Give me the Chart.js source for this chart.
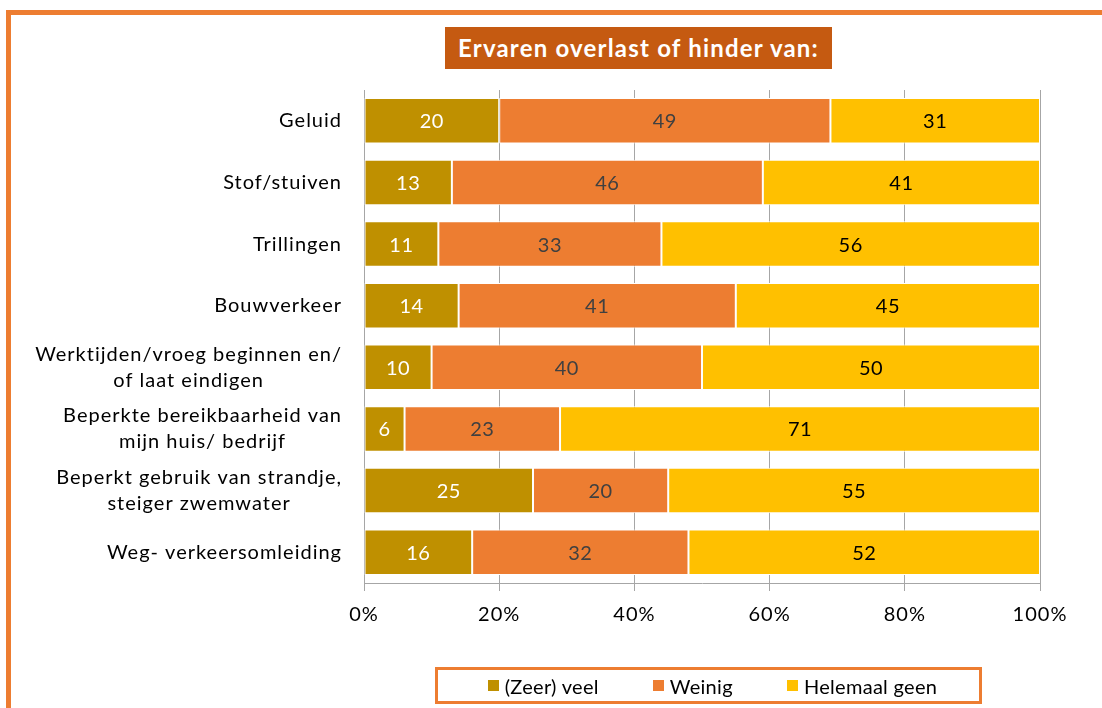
<!DOCTYPE html>
<html>
<head>
<meta charset="utf-8">
<script src="https://cdn.jsdelivr.net/npm/chart.js@4/dist/chart.umd.min.js"></script>
<style>
  body { margin:0; background:#fff; font-family:Lato, sans-serif; }
  #wrap { position:relative; width:1102px; height:708px; overflow:hidden; }
  #frame { position:absolute; left:6px; top:10px; right:-10px; bottom:-20px;
           border-top:5px solid #ED7D31; border-left:5px solid #ED7D31; }
  #title { position:absolute; left:445px; top:27px; width:387px; height:42px;
           background:#C55A11; color:#fff; font-weight:700; font-size:24px;
           letter-spacing:1.2px; line-height:42px; text-align:center; }
  #legend { position:absolute; left:435px; top:667px; width:533px; height:31px;
            border:3px solid #ED7D31; display:flex; align-items:center;
            justify-content:center; gap:54px; padding-left:8px; box-sizing:content-box;
            font-size:20px; letter-spacing:0.3px; color:#000; }
  #legend .item { display:flex; align-items:center; gap:6px; }
  #legend .sw { width:11px; height:11px; }
  canvas { position:absolute; left:0; top:0; }
</style>
</head>
<body>
<div id="wrap">
  <div id="frame"></div>
  <canvas id="chart" width="1102" height="708"></canvas>
  <div id="title">Ervaren overlast of hinder van:</div>
  <div id="legend"></div>
</div>
<script>
// categories (one array of lines per label)
const categories = [
  ['Geluid'],
  ['Stof/stuiven'],
  ['Trillingen'],
  ['Bouwverkeer'],
  ['Werktijden/vroeg beginnen en/', 'of laat eindigen'],
  ['Beperkte bereikbaarheid van', 'mijn huis/ bedrijf'],
  ['Beperkt gebruik van strandje,', 'steiger zwemwater'],
  ['Weg- verkeersomleiding']
];

const seriesNames = ['(Zeer) veel', 'Weinig', 'Helemaal geen'];
const zeerVeel      = [20, 13, 11, 14, 10, 6, 25, 16];
const weinig        = [49, 46, 33, 41, 40, 23, 20, 32];
const helemaalGeen  = [31, 41, 56, 45, 50, 71, 55, 52];

const xTicks = [0, 20, 40, 60, 80, 100];

const colors      = ['#BF9000', '#ED7D31', '#FFC000'];
const labelColors = ['#FFFFFF', '#404040', '#000000'];

const FONT = 'Lato, sans-serif';

// wider text like the original rendering
const spacing = {
  id: 'spacing',
  beforeDraw(chart) { chart.ctx.letterSpacing = '1px'; }
};

// value labels in the middle of each segment
const valueLabels = {
  id: 'valueLabels',
  afterDatasetsDraw(chart) {
    const ctx = chart.ctx;
    ctx.save();
    ctx.letterSpacing = '0.5px';
    ctx.font = '20px ' + FONT;
    ctx.textAlign = 'center';
    ctx.textBaseline = 'middle';
    chart.data.datasets.forEach((ds, i) => {
      const meta = chart.getDatasetMeta(i);
      meta.data.forEach((bar, j) => {
        const p = bar.getCenterPoint();
        ctx.fillStyle = labelColors[i];
        ctx.fillText(ds.data[j], p.x, p.y + 1);
      });
    });
    ctx.restore();
  }
};

// category labels: block right aligned, lines centered to each other
const catLabels = {
  id: 'catLabels',
  afterDraw(chart) {
    const ctx = chart.ctx;
    const y = chart.scales.y;
    const right = chart.chartArea.left - 22;
    const lh = 26;
    ctx.save();
    ctx.letterSpacing = '1px';
    ctx.font = '20px ' + FONT;
    ctx.fillStyle = '#000';
    ctx.textAlign = 'center';
    ctx.textBaseline = 'middle';
    categories.forEach((lines, j) => {
      const cy = y.getPixelForValue(j);
      const w = Math.max(...lines.map(l => ctx.measureText(l).width));
      const cx = right - w / 2;
      lines.forEach((l, k) => {
        ctx.fillText(l, cx, cy + (k - (lines.length - 1) / 2) * lh);
      });
    });
    ctx.restore();
  }
};

new Chart(document.getElementById('chart'), {
  type: 'bar',
  data: {
    labels: categories,
    datasets: [zeerVeel, weinig, helemaalGeen].map((d, i) => ({
      label: seriesNames[i],
      data: d,
      backgroundColor: colors[i],
      borderColor: '#FFFFFF',
      borderWidth: 1,
      borderSkipped: false,
      categoryPercentage: 1,
      barPercentage: 0.74
    }))
  },
  options: {
    indexAxis: 'y',
    responsive: false,
    maintainAspectRatio: false,
    animation: false,
    devicePixelRatio: 1,
    layout: { padding: { top: 90, right: 62, left: 0, bottom: 0 } },
    plugins: {
      legend: { display: false },
      tooltip: { enabled: false }
    },
    scales: {
      x: {
        stacked: true,
        min: 0,
        max: 100,
        afterBuildTicks: s => { s.ticks = xTicks.map(v => ({ value: v })); },
        afterFit: s => { s.height = 125; },
        grid: { color: '#A6A6A6', lineWidth: 1, tickLength: 8, drawOnChartArea: true },
        border: { color: '#A6A6A6', width: 1 },
        ticks: {
          padding: 12,
          color: '#000',
          font: { family: FONT, size: 20 },
          callback: v => v + '%'
        }
      },
      y: {
        stacked: true,
        afterFit: s => { s.width = 364; },
        grid: { display: false },
        border: { color: '#A6A6A6', width: 1 },
        ticks: { display: false }
      }
    }
  },
  plugins: [spacing, valueLabels, catLabels]
});

// legend box built from the same series
document.getElementById('legend').innerHTML = seriesNames.map((n, i) =>
  `<div class="item"><span class="sw" style="background:${colors[i]}"></span><span>${n}</span></div>`
).join('');
</script>
</body>
</html>
